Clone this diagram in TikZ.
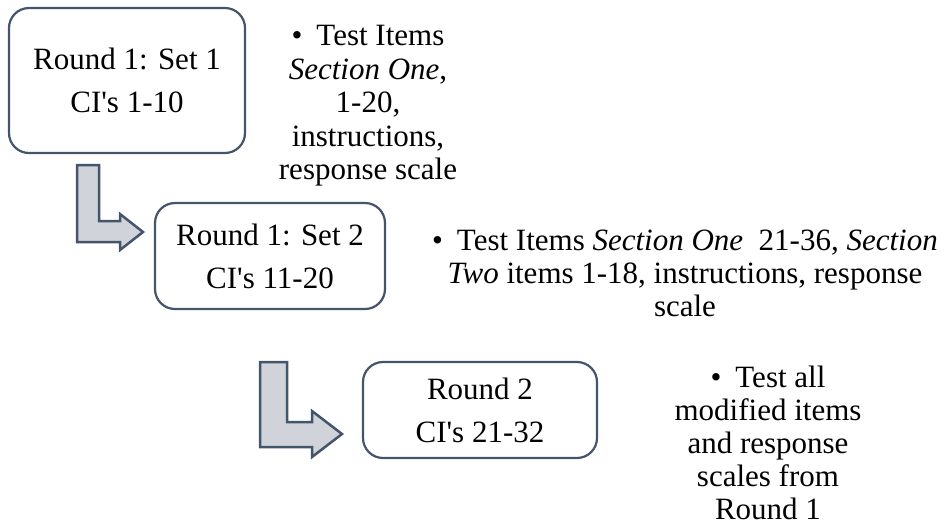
\documentclass[tikz,border=0pt]{standalone}
\usepackage{fontspec}
\setmainfont{Liberation Serif}
\definecolor{slate}{HTML}{44546A}
\definecolor{arrowfill}{HTML}{D0D3D9}
\newcommand{\bulletmark}{\textbullet\hspace{0.45em}}
\begin{document}
\begin{tikzpicture}[x=1pt,y=-1pt,
  stagebox/.style={draw=slate, line width=2.2pt, rounded corners=20pt, fill=white,
    align=center, font=\fontsize{31}{43}\selectfont, inner sep=0pt},
  bentarrow/.style={draw=slate, line width=2.5pt, fill=arrowfill, line join=miter},
  notetext/.style={align=center, font=\fontsize{31}{33}\selectfont, inner sep=0pt}]
\useasboundingbox (0,0) rectangle (947,523);

% stage boxes
\node[stagebox, minimum width=236pt, minimum height=145pt] (r1) at (127,80.5)
  {Round 1: Set 1\\CI\textquotesingle s 1-10};
\node[stagebox, minimum width=230pt, minimum height=106pt] (r2) at (270,256)
  {Round 1: Set 2\\CI\textquotesingle s 11-20};
\node[stagebox, minimum width=234pt, minimum height=96pt] (r3) at (480,410)
  {Round 2\\CI\textquotesingle s 21-32};

% bent arrows stepping down between the stages
\draw[bentarrow] (77,165) -- (99,165) -- (99,221) -- (120,221) -- (120,214)
  -- (143,232) -- (120,250) -- (120,242) -- (77,242) -- cycle;
\draw[bentarrow] (260,362) -- (287,362) -- (287,422) -- (312,422) -- (312,411)
  -- (342,434) -- (312,457) -- (312,447) -- (260,447) -- cycle;

% notes for each stage
\node[notetext, font=\fontsize{31}{33.5}\selectfont] (n1) at (368,106)
  {\bulletmark Test Items\\\textit{Section One},\\1-20,\\instructions,\\response scale};
\node[notetext] (n2) at (685,273)
  {\bulletmark Test Items \textit{Section One}\ \ 21-36, \textit{Section}\\
   \textit{Two} items 1-18, instructions, response\\scale};
\node[notetext] (n3) at (768,443)
  {\bulletmark Test all\\modified items\\and response\\scales from\\Round 1};
\end{tikzpicture}
\end{document}
